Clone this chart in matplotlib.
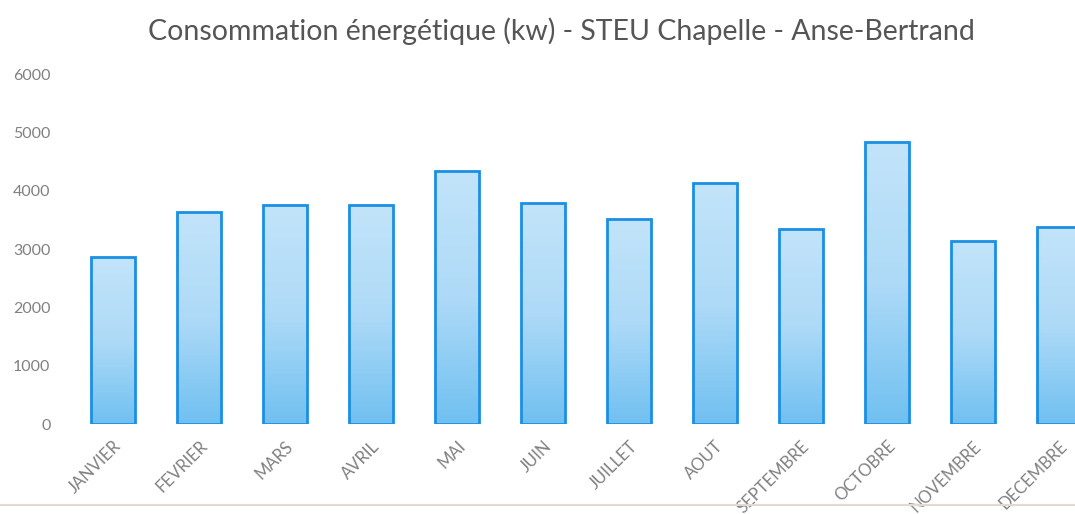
import numpy as np
import matplotlib
matplotlib.use("Agg")
import matplotlib.pyplot as plt
from matplotlib.colors import LinearSegmentedColormap
from matplotlib.lines import Line2D

# Données mensuelles (kW)
mois = ["JANVIER", "FEVRIER", "MARS", "AVRIL", "MAI", "JUIN",
        "JUILLET", "AOUT", "SEPTEMBRE", "OCTOBRE", "NOVEMBRE", "DECEMBRE"]
conso = [2860, 3630, 3750, 3750, 4340, 3790,
         3510, 4130, 3340, 4830, 3130, 3370]
y_ticks = [0, 1000, 2000, 3000, 4000, 5000, 6000]

titre = "Consommation énergétique (kw) - STEU Chapelle - Anse-Bertrand"

plt.rcParams["font.family"] = ["Lato", "DejaVu Sans"]

fig = plt.figure(figsize=(10.75, 5.14), dpi=100)
ax = fig.add_axes([0.0651, 0.175, 0.96, 0.681])

x = np.arange(len(mois))
largeur = 0.51
barres = ax.bar(x, conso, width=largeur, facecolor="none",
                edgecolor="#1b8fe3", linewidth=2.0, zorder=3)

# dégradé vertical dans chaque barre
degrade = LinearSegmentedColormap.from_list("bleu", ["#70c0f1", "#aedaf7", "#c2e4fa"])
grad = np.linspace(0, 1, 256).reshape(-1, 1)
for b in barres:
    x0, h = b.get_x(), b.get_height()
    im = ax.imshow(grad, cmap=degrade, aspect="auto", origin="lower",
                   extent=[x0, x0 + b.get_width(), 0, h], zorder=2)
    im.set_clip_path(b)

ax.set_xlim(-0.5, len(mois) - 0.5)
ax.set_ylim(0, 6000)
ax.set_yticks(y_ticks)
ax.set_yticklabels([str(v) for v in y_ticks], fontsize=11.5)
ax.set_xticks(x)
ax.set_xticklabels(mois, rotation=45, ha="right", rotation_mode="anchor",
                   fontsize=12)
ax.tick_params(axis="both", length=0, colors="#808080")
ax.tick_params(axis="x", pad=10)
ax.tick_params(axis="y", pad=14)
for s in ax.spines.values():
    s.set_visible(False)

fig.text(0.522, 0.94, titre, ha="center", va="center",
         fontsize=20.5, color="#555555")

# trait de bas de page
fig.add_artist(Line2D([0, 1], [0.018, 0.018], transform=fig.transFigure,
                      color="#e2d9cf", linewidth=1.5))

fig.savefig("out.png", dpi=100)
